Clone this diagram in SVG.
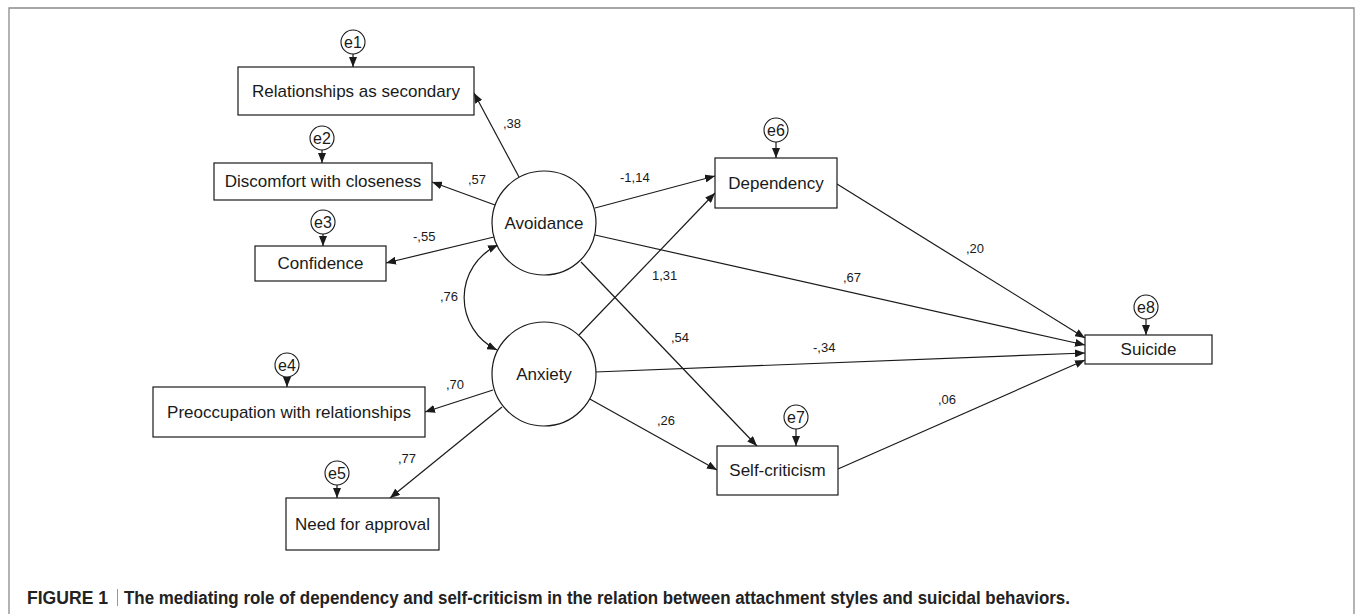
<svg xmlns="http://www.w3.org/2000/svg" width="1357" height="614" viewBox="0 0 1357 614">
<style>
.box{fill:#fff;stroke:#1a1a1a;stroke-width:1.2}
.lat{fill:#fff;stroke:#1a1a1a;stroke-width:1.2}
.err{fill:#fff;stroke:#1a1a1a;stroke-width:1.1}
.t{font-family:"Liberation Sans",Arial,sans-serif;font-size:17px;fill:#1a1a1a;text-anchor:middle}
.et{font-family:"Liberation Sans",Arial,sans-serif;font-size:16px;fill:#1a1a1a;text-anchor:middle}
.lb{font-family:"Liberation Sans",Arial,sans-serif;font-size:13px;fill:#1a1a1a}
.c line,.c path{stroke:#1a1a1a;stroke-width:1.2;fill:none;marker-end:url(#ah)}
.cap{font-family:"Liberation Sans",Arial,sans-serif;font-size:18px;font-weight:bold;fill:#222}
</style>
<defs>
<marker id="ah" viewBox="0 0 10 8" refX="10" refY="4" markerWidth="10" markerHeight="8" markerUnits="userSpaceOnUse" orient="auto-start-reverse">
<path d="M0,0 L10,4 L0,8 z" fill="#1a1a1a"/>
</marker>
</defs>
<rect width="1357" height="614" fill="#fff"/>
<path d="M9,614 V8 H1354 V614" fill="none" stroke="#8a8a8a" stroke-width="1.3"/>

<g id="connectors" class="c">
<line x1="353" y1="54" x2="353" y2="67"/>
<line x1="322" y1="150" x2="322" y2="163"/>
<line x1="323" y1="234" x2="323" y2="246"/>
<line x1="287" y1="377" x2="287" y2="387"/>
<line x1="337" y1="485" x2="337" y2="498"/>
<line x1="776" y1="142" x2="776" y2="158"/>
<line x1="796" y1="429" x2="796" y2="446"/>
<line x1="1146" y1="319" x2="1146" y2="335"/>
<line x1="519" y1="177" x2="474" y2="93"/>
<line x1="495" y1="205" x2="432" y2="182"/>
<line x1="494" y1="237" x2="386" y2="263"/>
<path d="M498,245 A58,58 0 0 0 497,350" style="marker-start:url(#ah)"/>
<line x1="493" y1="390" x2="425" y2="412"/>
<line x1="502" y1="407" x2="390" y2="498"/>
<line x1="595" y1="208" x2="715" y2="176"/>
<line x1="579" y1="335" x2="715" y2="193"/>
<line x1="595" y1="235" x2="1085" y2="345"/>
<line x1="581" y1="262" x2="757" y2="446"/>
<line x1="595" y1="372" x2="1085" y2="353"/>
<line x1="588" y1="398" x2="717" y2="470"/>
<line x1="837" y1="184" x2="1085" y2="338"/>
<line x1="838" y1="469" x2="1085" y2="360"/>
</g>

<g id="e1"><circle class="err" cx="353" cy="42" r="12"/><text class="et" x="353" y="47.5">e1</text></g>
<g id="e2"><circle class="err" cx="322" cy="138" r="12"/><text class="et" x="322" y="143.5">e2</text></g>
<g id="e3"><circle class="err" cx="323" cy="222" r="12"/><text class="et" x="323" y="227.5">e3</text></g>
<g id="e4"><circle class="err" cx="287" cy="365" r="12"/><text class="et" x="287" y="370.5">e4</text></g>
<g id="e5"><circle class="err" cx="337" cy="473" r="12"/><text class="et" x="337" y="478.5">e5</text></g>
<g id="e6"><circle class="err" cx="776" cy="130" r="12"/><text class="et" x="776" y="135.5">e6</text></g>
<g id="e7"><circle class="err" cx="796" cy="417" r="12"/><text class="et" x="796" y="422.5">e7</text></g>
<g id="e8"><circle class="err" cx="1146" cy="307" r="12"/><text class="et" x="1146" y="312.5">e8</text></g>

<g id="relationships"><rect class="box" x="238" y="67" width="236" height="48"/><text class="t" x="356" y="97">Relationships as secondary</text></g>
<g id="discomfort"><rect class="box" x="214" y="163" width="218" height="37"/><text class="t" x="323" y="187">Discomfort with closeness</text></g>
<g id="confidence"><rect class="box" x="255" y="246" width="131" height="35"/><text class="t" x="320.5" y="269">Confidence</text></g>
<g id="preoccupation"><rect class="box" x="153" y="387" width="272" height="50"/><text class="t" x="289" y="418">Preoccupation with relationships</text></g>
<g id="need"><rect class="box" x="286" y="498" width="153" height="52"/><text class="t" x="362.5" y="530">Need for approval</text></g>
<g id="dependency"><rect class="box" x="715" y="158" width="122" height="50"/><text class="t" x="776" y="189">Dependency</text></g>
<g id="selfcriticism"><rect class="box" x="717" y="446" width="121" height="49"/><text class="t" x="777.5" y="476">Self-criticism</text></g>
<g id="suicide"><rect class="box" x="1085" y="335" width="127" height="29"/><text class="t" x="1148.5" y="355">Suicide</text></g>
<g id="avoidance"><circle class="lat" cx="544" cy="223" r="52"/><text class="t" x="544" y="229">Avoidance</text></g>
<g id="anxiety"><circle class="lat" cx="544" cy="374" r="52"/><text class="t" x="544" y="380">Anxiety</text></g>

<g id="labels">
<text class="lb" x="503" y="128">,38</text>
<text class="lb" x="468" y="184">,57</text>
<text class="lb" x="413" y="241">-,55</text>
<text class="lb" x="440" y="301">,76</text>
<text class="lb" x="446" y="389">,70</text>
<text class="lb" x="398" y="463">,77</text>
<text class="lb" x="620" y="182">-1,14</text>
<text class="lb" x="652" y="280">1,31</text>
<text class="lb" x="671" y="342">,54</text>
<text class="lb" x="813" y="352">-,34</text>
<text class="lb" x="657" y="425">,26</text>
<text class="lb" x="966" y="253">,20</text>
<text class="lb" x="843" y="282">,67</text>
<text class="lb" x="938" y="404">,06</text>
</g>

<g id="caption">
<text class="cap" x="27" y="604" textLength="81" lengthAdjust="spacingAndGlyphs">FIGURE 1</text>
<line x1="117.5" y1="589" x2="117.5" y2="606" stroke="#999" stroke-width="1"/>
<text class="cap" x="124" y="604" textLength="946" lengthAdjust="spacingAndGlyphs">The mediating role of dependency and self-criticism in the relation between attachment styles and suicidal behaviors.</text>
</g>
</svg>
